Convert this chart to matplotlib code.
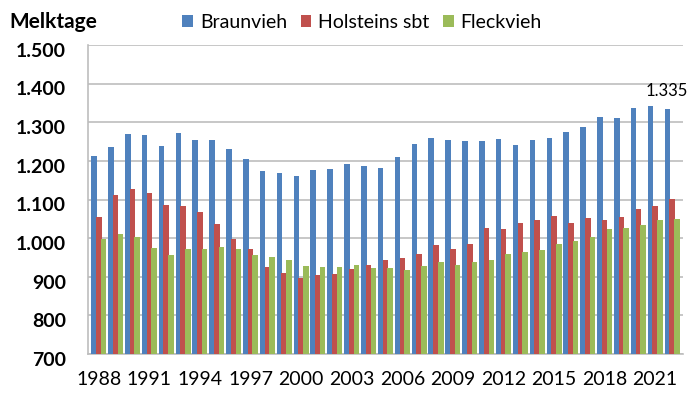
import matplotlib
matplotlib.use("Agg")
import matplotlib.pyplot as plt
import matplotlib.transforms as mtransforms
import numpy as np

plt.rcParams['font.family'] = ['Lato', 'DejaVu Sans']

years = list(range(1988, 2023))
braunvieh = [1213, 1237, 1269, 1266, 1238, 1271, 1254, 1255, 1232, 1204, 1175, 1169,
             1160, 1177, 1180, 1193, 1188, 1182, 1210, 1243, 1258, 1255, 1251, 1251,
             1257, 1241, 1254, 1258, 1275, 1288, 1314, 1310, 1337, 1342, 1335]
holsteins = [1056, 1112, 1127, 1116, 1087, 1083, 1068, 1037, 999, 971, 926, 911,
             898, 905, 906, 919, 930, 943, 949, 960, 982, 973, 984, 1027,
             1024, 1038, 1046, 1057, 1040, 1051, 1047, 1054, 1075, 1084, 1101]
fleckvieh = [997, 1010, 1002, 975, 956, 972, 973, 978, 971, 956, 951, 944,
             927, 925, 924, 930, 922, 923, 918, 927, 938, 931, 937, 944,
             960, 963, 969, 986, 992, 1004, 1023, 1025, 1033, 1048, 1050]
series_names = ["Braunvieh", "Holsteins sbt", "Fleckvieh"]
colors = ["#4F81BD", "#C0504D", "#9BBB59"]
yticks = [700, 800, 900, 1000, 1100, 1200, 1300, 1400, 1500]
ytick_labels = ["700", "800", "900", "1.000", "1.100", "1.200", "1.300", "1.400", "1.500"]

fig = plt.figure(figsize=(6.91, 4.07), dpi=100)
ax = fig.add_axes([0.1274, 0.1302, 0.8610, 0.7592])

x = np.arange(len(years))
w = 0.33
off = 0.28
for i, (vals, c, name) in enumerate(zip([braunvieh, holsteins, fleckvieh], colors, series_names)):
    ax.bar(x + (i - 1) * off, np.array(vals) - 700, bottom=700, width=w, color=c,
           label=name, zorder=3 + i)

ax.set_ylim(700, 1500)
ax.set_xlim(-0.64, 34.65)
ax.set_yticks(yticks)
ax.set_yticklabels(ytick_labels, fontsize=14, fontweight='bold')
xt = x[::3]
ax.set_xticks(xt)
ax.set_xticklabels([str(years[i]) for i in xt], fontsize=14)
ax.tick_params(axis='x', length=0, pad=12)
ax.tick_params(axis='y', length=0, pad=16)
shift = mtransforms.ScaledTranslation(0, -3.5 / 72, fig.dpi_scale_trans)
for lbl in ax.get_yticklabels():
    lbl.set_transform(lbl.get_transform() + shift)
ax.yaxis.grid(True, color="#BDBDBD", linewidth=1.2, zorder=0)
ax.set_axisbelow(True)
for s in ['top', 'right']:
    ax.spines[s].set_visible(False)
ax.spines['left'].set_color("#BDBDBD")
ax.spines['bottom'].set_color("#BDBDBD")
ax.spines['left'].set_linewidth(1.2)
ax.spines['bottom'].set_linewidth(1.2)

ax.annotate("1.335", xy=(x[-1], braunvieh[-1]), xytext=(-4, 7), textcoords='offset points',
            ha='center', va='bottom', fontsize=12)

fig.text(0.014, 0.947, "Melktage", fontsize=15, fontweight='bold', va='center', ha='left')
fig.legend(loc='center', bbox_to_anchor=(0.524, 0.945), ncol=3, frameon=False, fontsize=14,
           handlelength=0.55, handleheight=0.55, handletextpad=0.35, columnspacing=0.7)

fig.savefig("out.png", dpi=100)
